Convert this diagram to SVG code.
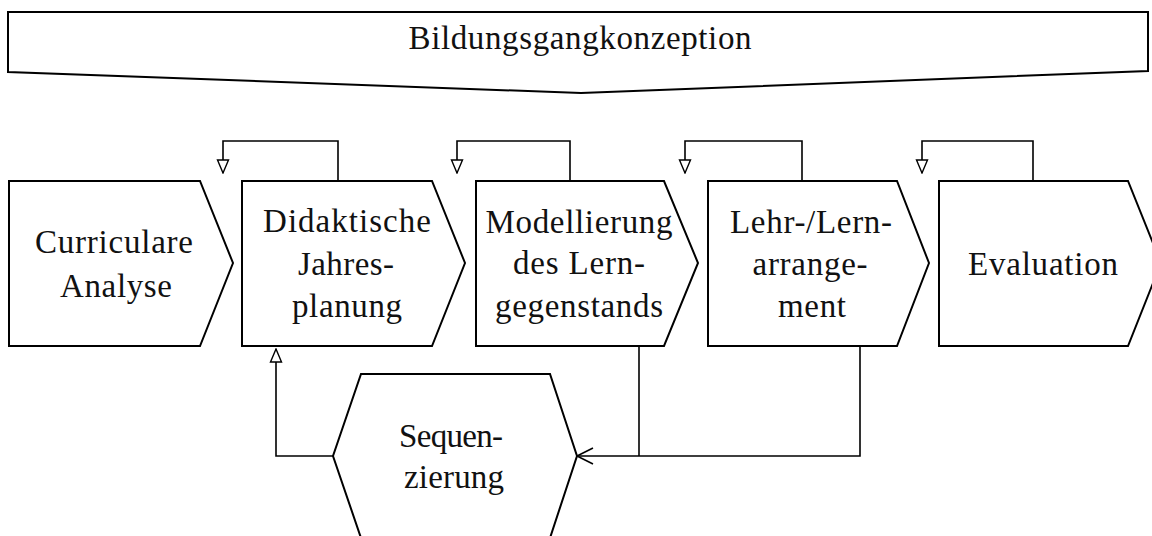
<svg xmlns="http://www.w3.org/2000/svg" width="1152" height="536" viewBox="0 0 1152 536">
<style>
.shape{fill:#fff;stroke:#000;stroke-width:2;stroke-linejoin:miter}
.lbl{font-family:"Liberation Serif","Times New Roman",serif;font-size:33px;fill:#111;text-anchor:middle}
.conn{fill:none;stroke:#000;stroke-width:1.6}
</style>
<defs>
<marker id="tri" markerUnits="userSpaceOnUse" markerWidth="16" markerHeight="14" viewBox="-15 -7 16 14" refX="0" refY="0" orient="auto">
<path d="M0,0 L-13,-5.5 L-13,5.5 Z" fill="#fff" stroke="#000" stroke-width="1.4"/>
</marker>
<marker id="vee" markerUnits="userSpaceOnUse" markerWidth="20" markerHeight="20" viewBox="-18 -10 20 20" refX="0" refY="0" orient="auto">
<path d="M-16,-8 L0,0 L-16,8" fill="none" stroke="#000" stroke-width="1.6"/>
</marker>
</defs>
<rect width="1152" height="536" fill="#fff"/>

<g id="bildungsgangkonzeption">
<path class="shape" d="M8,12 L1148,12 L1148,71 L581,93 L8,72 Z"/>
<text class="lbl" x="580" y="49" textLength="343" lengthAdjust="spacing">Bildungsgangkonzeption</text>
</g>

<g id="connectors">
<path class="conn" d="M338,181 V141 H223 V173" marker-end="url(#tri)"/>
<path class="conn" d="M570,181 V141 H457 V173" marker-end="url(#tri)"/>
<path class="conn" d="M802,181 V141 H685 V173" marker-end="url(#tri)"/>
<path class="conn" d="M1033,181 V141 H922 V173" marker-end="url(#tri)"/>
<path class="conn" d="M333,456 H276 V349" marker-end="url(#tri)"/>
<path class="conn" d="M639,347 V456"/>
<path class="conn" d="M860,347 V456 H577" marker-end="url(#vee)"/>
</g>

<g id="curriculare-analyse">
<path class="shape" d="M9,181 L200,181 L233,263 L200,346 L9,346 Z"/>
<text class="lbl" x="114" y="253" textLength="158" lengthAdjust="spacing">Curriculare</text>
<text class="lbl" x="116" y="297" textLength="112" lengthAdjust="spacing">Analyse</text>
</g>

<g id="didaktische-jahresplanung">
<path class="shape" d="M242,181 L432,181 L465,263 L432,346 L242,346 Z"/>
<text class="lbl" x="347" y="232" textLength="168" lengthAdjust="spacing">Didaktische</text>
<text class="lbl" x="346" y="275" textLength="96" lengthAdjust="spacing">Jahres-</text>
<text class="lbl" x="347" y="317" textLength="110" lengthAdjust="spacing">planung</text>
</g>

<g id="modellierung">
<path class="shape" d="M476,181 L664,181 L698,263 L664,346 L476,346 Z"/>
<text class="lbl" x="579" y="233" textLength="187" lengthAdjust="spacing">Modellierung</text>
<text class="lbl" x="579" y="274" textLength="132" lengthAdjust="spacing">des Lern-</text>
<text class="lbl" x="579" y="317" textLength="168" lengthAdjust="spacing">gegenstands</text>
</g>

<g id="lehr-lernarrangement">
<path class="shape" d="M708,181 L897,181 L929,263 L897,346 L708,346 Z"/>
<text class="lbl" x="811" y="233" textLength="162" lengthAdjust="spacing">Lehr-/Lern-</text>
<text class="lbl" x="810" y="275" textLength="115" lengthAdjust="spacing">arrange-</text>
<text class="lbl" x="812" y="317" textLength="68" lengthAdjust="spacing">ment</text>
</g>

<g id="evaluation">
<path class="shape" d="M939,181 L1128,181 L1161,263 L1128,346 L939,346 Z"/>
<text class="lbl" x="1043" y="275" textLength="150" lengthAdjust="spacing">Evaluation</text>
</g>

<g id="sequenzierung">
<path class="shape" d="M361,374 L550,374 L577,456 L550,538 L361,538 L333,456 Z"/>
<text class="lbl" x="451" y="447" textLength="104" lengthAdjust="spacing">Sequen-</text>
<text class="lbl" x="454" y="488" textLength="100" lengthAdjust="spacing">zierung</text>
</g>
</svg>
